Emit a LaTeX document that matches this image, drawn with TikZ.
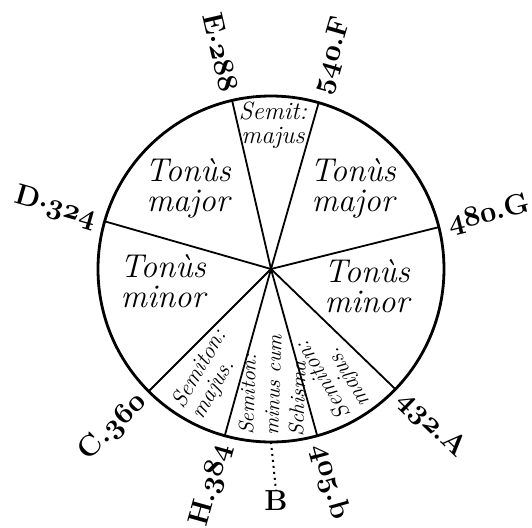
\documentclass[tikz,border=0pt]{standalone}
\usepackage{tikz}
\usetikzlibrary{calc}
\newcommand\onum[1]{{\usefont{OML}{cmm}{b}{it}#1}}

\begin{document}
\begin{tikzpicture}[
  x=0.5pt,y=0.5pt,
  rim/.style={line width=1.4pt},
  spoke/.style={line width=0.9pt},
  tone/.style={font=\fontsize{16.5}{15}\selectfont\itshape,align=center,inner sep=0pt},
  semi/.style={font=\fontsize{11.5}{11}\selectfont\itshape,align=left,inner sep=0pt,anchor=west},
  pitch/.style={font=\fontsize{14.5}{16}\selectfont\bfseries,inner sep=0pt}
]
\useasboundingbox (-271,-258) rectangle (261,269);
\coordinate (c) at (0,0);
\draw[rim] (c) circle (173);
\foreach \name/\ang in {g/14,f/74,e/103,d/164,cc/225,h/254.5,bf/285.5,a/316}
  \draw[spoke] (c) -- (\ang:173) coordinate (\name);
\coordinate (bm) at (270:173);

\node[pitch,anchor=west,rotate=14] (lg) at (14:182) {\onum{480}.G};
\node[pitch,anchor=west,rotate=74] (lf) at (74:182) {\onum{540}.F};
\node[pitch,anchor=east,rotate=-77] (le) at (103:182) {E\raisebox{.3ex}{.}\onum{288}};
\node[pitch,anchor=east,rotate=-16] (ld) at (164:182) {D\raisebox{.3ex}{.}\onum{324}};
\node[pitch,anchor=east,rotate=45] (lc) at (225:182) {C.\onum{360}};
\node[pitch,anchor=east,rotate=74.5] (lh) at (254.5:182) {H.\onum{384}};
\node[pitch,anchor=west,rotate=-74.5] (lb) at (285.5:182) {\onum{405}.b};
\node[pitch,anchor=west,rotate=-44] (la) at (316:182) {\onum{432}.A};
\node[pitch] (bnat) at (5,-232) {B};
\draw[dotted,line width=1pt] (bm) -- (bnat.north);

\node[tone] (tmaja) at (-83,81) {Tonùs\\major};
\node[tone] (tmajb) at (82,81) {Tonùs\\major};
\node[tone] (tmina) at (-108,-12) {Tonùs\\minor};
\node[tone] (tminb) at (96,-17) {Tonùs\\minor};
\node[semi,anchor=center,align=center,font=\fontsize{12.5}{12}\selectfont\itshape] (smaj) at (2,144) {Semit:\\majus};
\node[semi,rotate=59.75] (smaja) at (239.75:166) {Semiton:\\majus.};
\node[semi,rotate=88,font=\fontsize{10.5}{12.5}\selectfont\itshape] (smin) at (270:167) {Semiton:\\minus cum\\Schisma};
\node[semi,rotate=120.75] (smajb) at (300.75:166) {Semiton:\\majus.};
\end{tikzpicture}
\end{document}
